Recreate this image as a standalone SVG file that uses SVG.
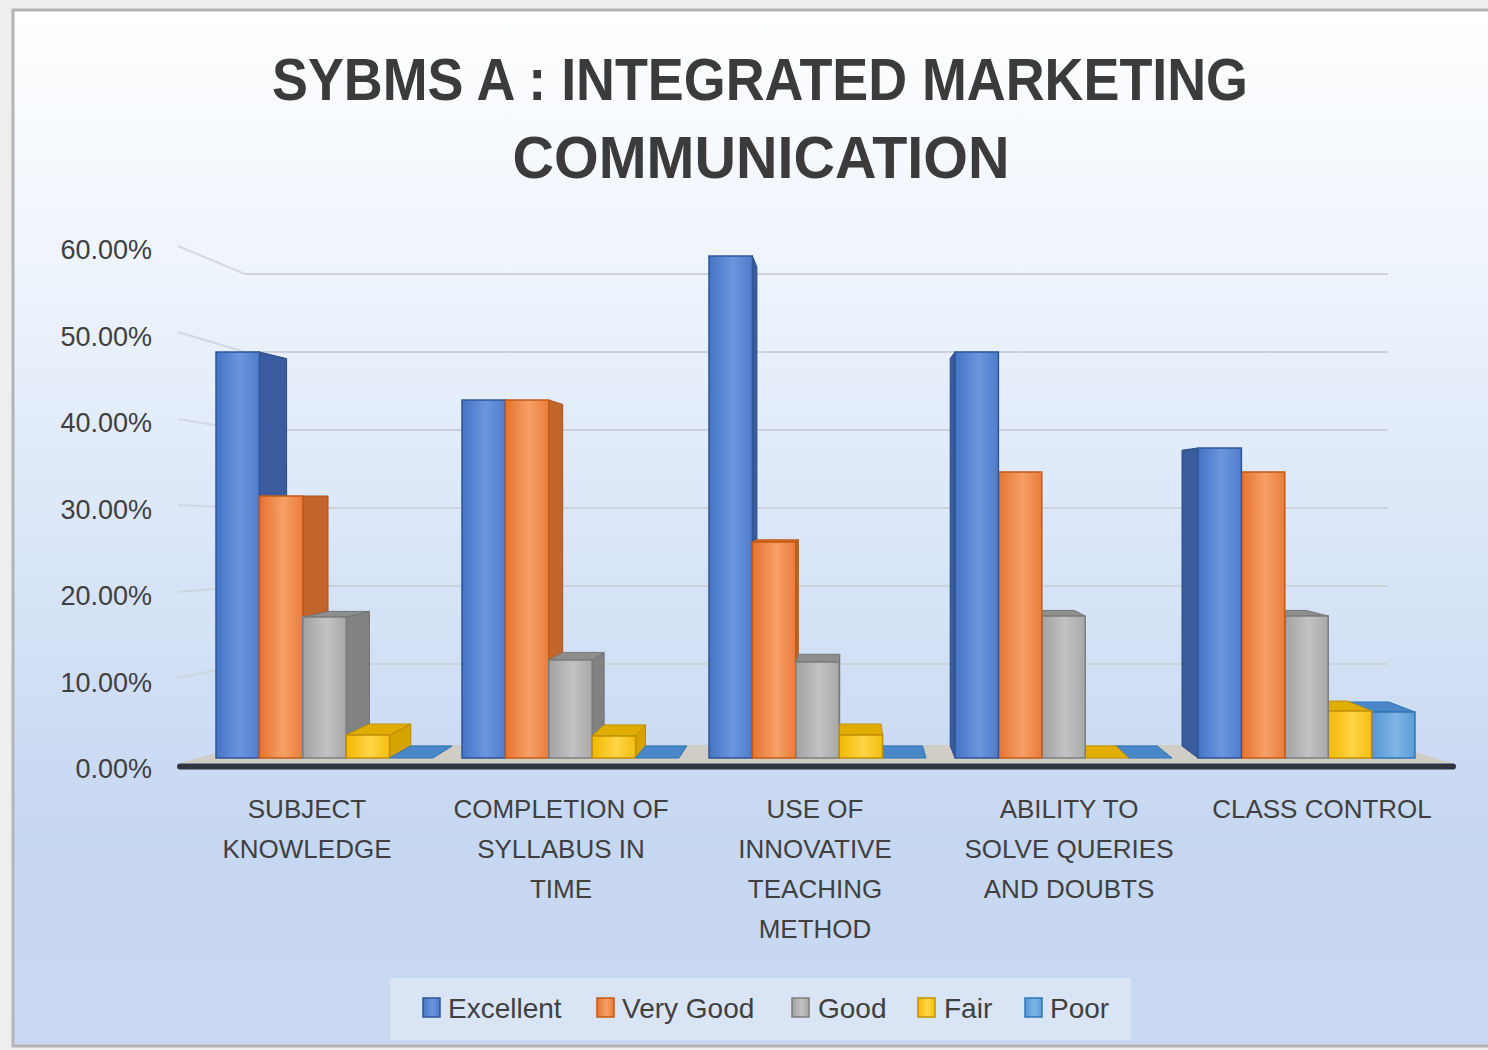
<svg xmlns="http://www.w3.org/2000/svg" width="1488" height="1050" viewBox="0 0 1488 1050">
<defs>
<linearGradient id="bg" x1="0" y1="0" x2="0" y2="1">
<stop offset="0" stop-color="#ffffff"/>
<stop offset="0.25" stop-color="#eef4fc"/>
<stop offset="0.55" stop-color="#d7e4f7"/>
<stop offset="0.8" stop-color="#c6d7f1"/>
<stop offset="1" stop-color="#cad9f2"/>
</linearGradient>
<linearGradient id="gE" x1="0" y1="0" x2="1" y2="0">
<stop offset="0" stop-color="#4574c6"/><stop offset="0.55" stop-color="#6b96de"/><stop offset="1" stop-color="#4f7ccb"/>
</linearGradient>
<linearGradient id="gO" x1="0" y1="0" x2="1" y2="0">
<stop offset="0" stop-color="#e6732f"/><stop offset="0.55" stop-color="#f5a068"/><stop offset="1" stop-color="#ea7c3a"/>
</linearGradient>
<linearGradient id="gG" x1="0" y1="0" x2="1" y2="0">
<stop offset="0" stop-color="#a2a2a2"/><stop offset="0.55" stop-color="#c2c2c2"/><stop offset="1" stop-color="#a8a8a8"/>
</linearGradient>
<linearGradient id="gY" x1="0" y1="0" x2="1" y2="0">
<stop offset="0" stop-color="#f2b800"/><stop offset="0.55" stop-color="#ffd547"/><stop offset="1" stop-color="#f5be10"/>
</linearGradient>
<linearGradient id="gP" x1="0" y1="0" x2="1" y2="0">
<stop offset="0" stop-color="#5596d2"/><stop offset="0.55" stop-color="#80b4e6"/><stop offset="1" stop-color="#5b9bd5"/>
</linearGradient>
<style>
.fE{fill:url(#gE);stroke:#2f5597;stroke-width:1.5}
.sE{fill:#3a5c9e;stroke:#2c4c88;stroke-width:1}
.tE{fill:#4a76c2;stroke:#2f5597;stroke-width:1}
.fO{fill:url(#gO);stroke:#c55a11;stroke-width:1.5}
.sO{fill:#c2652c;stroke:#a9541f;stroke-width:1}
.tO{fill:#d86d2e;stroke:#c55a11;stroke-width:1}
.fG{fill:url(#gG);stroke:#7c7c7c;stroke-width:1.5}
.sG{fill:#828282;stroke:#6e6e6e;stroke-width:1}
.tG{fill:#8e8e8e;stroke:#767676;stroke-width:1}
.fY{fill:url(#gY);stroke:#c09000;stroke-width:1.5}
.sY{fill:#d6a300;stroke:#b88a00;stroke-width:1}
.tY{fill:#e0ad00;stroke:#c09000;stroke-width:1}
.fP{fill:url(#gP);stroke:#2e75b6;stroke-width:1.5}
.sP{fill:#3f7cbf;stroke:#2e68a8;stroke-width:1}
.tP{fill:#4a87c9;stroke:#2e75b6;stroke-width:1}
.grid{stroke:#cdd2da;stroke-width:2;fill:none}
.ytick{font-family:"Liberation Sans",Arial,sans-serif;font-size:27px;fill:#404040;text-anchor:end}
.cat{font-family:"Liberation Sans",Arial,sans-serif;font-size:26px;fill:#404040;text-anchor:middle}
.leg{font-family:"Liberation Sans",Arial,sans-serif;font-size:28px;fill:#404040}
.title{font-family:"Liberation Sans",Arial,sans-serif;font-size:60px;font-weight:bold;fill:#3b3b3b;text-anchor:middle}
</style>
</defs>
<rect x="0" y="0" width="1488" height="1050" fill="#eeeeee"/>
<rect x="13" y="10" width="1500" height="1036" fill="url(#bg)" stroke="#b4b4b4" stroke-width="3"/>
<g id="title">
<text class="title" x="760" y="100" textLength="976" lengthAdjust="spacingAndGlyphs">SYBMS A : INTEGRATED MARKETING</text>
<text class="title" x="761" y="178" textLength="497" lengthAdjust="spacingAndGlyphs">COMMUNICATION</text>
</g>
<g id="gridlines">
<path class="grid" d="M245,274H1388M245,352H1388M245,430H1388M245,508H1388M245,586H1388M245,664H1388"/>
<path class="grid" opacity="0.8" d="M178,246L245,274M178,332L245,352M178,419L245,430M178,505L245,508M178,592L245,586M178,678L245,664"/>
</g>
<g id="y-axis">
<text class="ytick" x="152" y="259">60.00%</text>
<text class="ytick" x="152" y="346">50.00%</text>
<text class="ytick" x="152" y="432">40.00%</text>
<text class="ytick" x="152" y="519">30.00%</text>
<text class="ytick" x="152" y="605">20.00%</text>
<text class="ytick" x="152" y="692">10.00%</text>
<text class="ytick" x="152" y="778">0.00%</text>
</g>
<g id="floor">
<polygon points="245,745 1390,745 1453,763 180,763" fill="#cfcdc6"/>
<line x1="180" y1="766.5" x2="1453" y2="766.5" stroke="#2f343d" stroke-width="6" stroke-linecap="round"/>
</g>
<g id="bars">
<g id="sk-excellent"><polygon class="sE" points="259.4,352 286.6,358.6 286.6,745.9 259.4,758"/><rect class="fE" x="216" y="352" width="43.4" height="406"/></g>
<g id="sk-verygood"><polygon class="sO" points="302.8,496 328,496 328,745.9 302.8,758"/><rect class="fO" x="259.4" y="496" width="43.4" height="262"/></g>
<g id="sk-good"><polygon class="sG" points="346.2,617 369.4,611.4 369.4,745.9 346.2,758"/><polygon class="tG" points="302.8,617 346.2,617 369.4,611.4 328,611.4"/><rect class="fG" x="302.8" y="617" width="43.4" height="141"/></g>
<g id="sk-fair"><polygon class="sY" points="389.6,735 410.8,724 410.8,745.9 389.6,758"/><polygon class="tY" points="346.2,735 389.6,735 410.8,724 369.4,724"/><rect class="fY" x="346.2" y="735" width="43.4" height="23"/></g>
<g id="sk-poor"><polygon class="tP" points="389.6,758 433,758 452.2,745.9 410.8,745.9"/></g>

<g id="cs-excellent"><polygon class="sE" points="505.4,400 521.3,404.4 521.3,745.9 505.4,758"/><rect class="fE" x="462" y="400" width="43.4" height="358"/></g>
<g id="cs-verygood"><polygon class="sO" points="548.8,400 562.7,404.4 562.7,745.9 548.8,758"/><rect class="fO" x="505.4" y="400" width="43.4" height="358"/></g>
<g id="cs-good"><polygon class="sG" points="592.2,660 604.1,652.4 604.1,745.9 592.2,758"/><polygon class="tG" points="548.8,660 592.2,660 604.1,652.4 562.7,652.4"/><rect class="fG" x="548.8" y="660" width="43.4" height="98"/></g>
<g id="cs-fair"><polygon class="sY" points="635.6,736 645.5,724.9 645.5,745.9 635.6,758"/><polygon class="tY" points="592.2,736 635.6,736 645.5,724.9 604.1,724.9"/><rect class="fY" x="592.2" y="736" width="43.4" height="22"/></g>
<g id="cs-poor"><polygon class="tP" points="635.6,758 679,758 686.9,745.9 645.5,745.9"/></g>

<g id="ui-excellent"><polygon class="sE" points="752.4,256 756.9,267 756.9,745.9 752.4,758"/><rect class="fE" x="709" y="256" width="43.4" height="502"/></g>
<g id="ui-verygood"><polygon class="sO" points="795.8,542 798.3,539.8 798.3,745.9 795.8,758"/><polygon class="tO" points="752.4,542 795.8,542 798.3,539.8 756.9,539.8"/><rect class="fO" x="752.4" y="542" width="43.4" height="216"/></g>
<g id="ui-good"><polygon class="sG" points="839.2,662 839.7,654.3 839.7,745.9 839.2,758"/><polygon class="tG" points="795.8,662 839.2,662 839.7,654.3 798.3,654.3"/><rect class="fG" x="795.8" y="662" width="43.4" height="96"/></g>
<g id="ui-poor"><polygon class="tP" points="882.6,758 926,758 922.5,745.9 881.1,745.9"/></g>
<g id="ui-fair"><polygon class="tY" points="839.2,735 882.6,735 881.1,724 839.7,724"/><rect class="fY" x="839.2" y="735" width="43.4" height="23"/></g>

<g id="as-poor"><polygon class="tP" points="1128.6,758 1172,758 1157.2,745.9 1115.8,745.9"/></g>
<g id="as-fair"><polygon class="tY" points="1085.2,758 1128.6,758 1115.8,745.9 1074.4,745.9"/></g>
<g id="as-good"><polygon class="sG" points="1041.8,616 1033,610.4 1033,745.9 1041.8,758"/><polygon class="tG" points="1041.8,616 1085.2,616 1074.4,610.4 1033,610.4"/><rect class="fG" x="1041.8" y="616" width="43.4" height="142"/></g>
<g id="as-verygood"><polygon class="sO" points="998.4,472 991.6,473.1 991.6,745.9 998.4,758"/><rect class="fO" x="998.4" y="472" width="43.4" height="286"/></g>
<g id="as-excellent"><polygon class="sE" points="955,352 950.2,358.6 950.2,745.9 955,758"/><rect class="fE" x="955" y="352" width="43.4" height="406"/></g>

<g id="cc-poor"><polygon class="sP" points="1371.6,712 1347.6,702 1347.6,745.9 1371.6,758"/><polygon class="tP" points="1371.6,712 1415,712 1389,702 1347.6,702"/><rect class="fP" x="1371.6" y="712" width="43.4" height="46"/></g>
<g id="cc-fair"><polygon class="sY" points="1328.2,711 1306.2,701.1 1306.2,745.9 1328.2,758"/><polygon class="tY" points="1328.2,711 1371.6,711 1347.6,701.1 1306.2,701.1"/><rect class="fY" x="1328.2" y="711" width="43.4" height="47"/></g>
<g id="cc-good"><polygon class="sG" points="1284.8,616 1264.8,610.4 1264.8,745.9 1284.8,758"/><polygon class="tG" points="1284.8,616 1328.2,616 1306.2,610.4 1264.8,610.4"/><rect class="fG" x="1284.8" y="616" width="43.4" height="142"/></g>
<g id="cc-verygood"><polygon class="sO" points="1241.4,472 1223.4,473.1 1223.4,745.9 1241.4,758"/><rect class="fO" x="1241.4" y="472" width="43.4" height="286"/></g>
<g id="cc-excellent"><polygon class="sE" points="1198,448 1182,450.2 1182,745.9 1198,758"/><rect class="fE" x="1198" y="448" width="43.4" height="310"/></g>
</g>
<g id="categories">
<text class="cat" x="307" y="818">SUBJECT</text>
<text class="cat" x="307" y="858">KNOWLEDGE</text>
<text class="cat" x="561" y="818">COMPLETION OF</text>
<text class="cat" x="561" y="858">SYLLABUS IN</text>
<text class="cat" x="561" y="898">TIME</text>
<text class="cat" x="815" y="818">USE OF</text>
<text class="cat" x="815" y="858">INNOVATIVE</text>
<text class="cat" x="815" y="898">TEACHING</text>
<text class="cat" x="815" y="938">METHOD</text>
<text class="cat" x="1069" y="818">ABILITY TO</text>
<text class="cat" x="1069" y="858">SOLVE QUERIES</text>
<text class="cat" x="1069" y="898">AND DOUBTS</text>
<text class="cat" x="1322" y="818">CLASS CONTROL</text>
</g>
<g id="legend">
<rect x="390" y="978" width="741" height="62" fill="#d9e4f5"/>
<rect class="fE" x="423" y="998" width="17" height="19"/><text class="leg" x="448" y="1018">Excellent</text>
<rect class="fO" x="597" y="998" width="17" height="19"/><text class="leg" x="622" y="1018">Very Good</text>
<rect class="fG" x="792" y="998" width="17" height="19"/><text class="leg" x="818" y="1018">Good</text>
<rect class="fY" x="918" y="998" width="17" height="19"/><text class="leg" x="944" y="1018">Fair</text>
<rect class="fP" x="1025" y="998" width="17" height="19"/><text class="leg" x="1050" y="1018">Poor</text>
</g>
</svg>
